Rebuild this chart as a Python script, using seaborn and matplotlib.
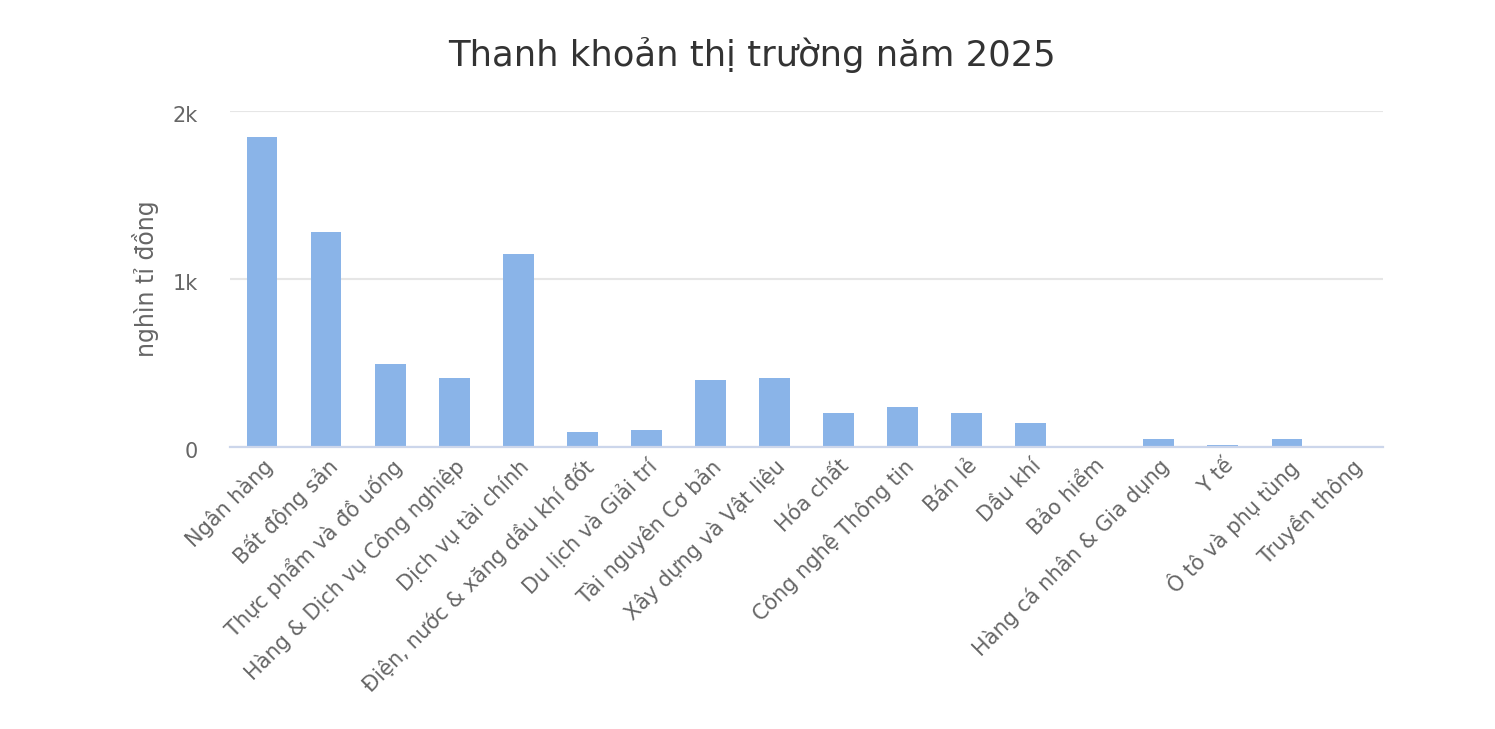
import numpy as np
import pandas as pd
import matplotlib
matplotlib.use('Agg')
import matplotlib.pyplot as plt
import matplotlib.transforms as mtransforms
import seaborn as sns

# values (nghin ti dong)
sectors = ['Ngân hàng', 'Bất động sản', 'Thực phẩm và đồ uống',
           'Hàng & Dịch vụ Công nghiệp', 'Dịch vụ tài chính',
           'Điện, nước & xăng dầu khí đốt', 'Du lịch và Giải trí',
           'Tài nguyên Cơ bản', 'Xây dựng và Vật liệu', 'Hóa chất',
           'Công nghệ Thông tin', 'Bán lẻ', 'Dầu khí', 'Bảo hiểm',
           'Hàng cá nhân & Gia dụng', 'Y tế', 'Ô tô và phụ tùng', 'Truyền thông']
liquidity = [1845, 1282, 495, 411, 1150, 88, 101, 399, 411, 205,
             240, 205, 145, 0, 48, 12, 48, 0]
yticks = [0, 1000, 2000]
ytick_labels = ['0', '1k', '2k']

df = pd.DataFrame({'sector': sectors, 'value': liquidity})

sns.set_style('white')
plt.rcParams['font.family'] = ['DejaVu Sans']

fig = plt.figure(figsize=(14.95, 7.29), dpi=100)
ax = fig.add_axes([230/1495, 1 - 447/729, (1383-230)/1495, (447-111)/729])

sns.barplot(data=df, x='sector', y='value', color='#8ab4e8', width=0.48,
            saturation=1, linewidth=0, ax=ax)

ax.set_ylim(0, 2000)
ax.set_xlim(-0.5, len(sectors) - 0.5)
ax.set_yticks(yticks)
ax.set_yticklabels(ytick_labels)
ax.yaxis.grid(True, color='#e6e6e6', linewidth=1.5)
ax.set_axisbelow(True)
for s in ['top', 'right', 'left']:
    ax.spines[s].set_visible(False)
ax.spines['bottom'].set_color('#ccd6eb')
ax.spines['bottom'].set_linewidth(1.6)
ax.spines['bottom'].set_zorder(3)
ax.tick_params(axis='y', length=0, pad=23, labelsize=15, labelcolor='#666666')
ax.tick_params(axis='x', length=0, pad=6, labelsize=15, labelcolor='#666666')
plt.setp(ax.get_xticklabels(), rotation=45, ha='right', rotation_mode='anchor')
# nudge y labels a little below their gridlines
shift = mtransforms.ScaledTranslation(0, -3/100, fig.dpi_scale_trans)
for lab in ax.get_yticklabels():
    lab.set_verticalalignment('center_baseline')
    lab.set_transform(lab.get_transform() + shift)

ax.set_xlabel('')
ax.set_ylabel('nghìn tỉ đồng', fontsize=17, color='#666666')
ax.yaxis.set_label_coords(-(230 - 159) / (1383 - 230), 0.5)
fig.text(752/1495, 1 - 55/729, 'Thanh khoản thị trường năm 2025', fontsize=25.5,
         color='#333333', ha='center', va='center')

plt.savefig('out.png', dpi=100)
